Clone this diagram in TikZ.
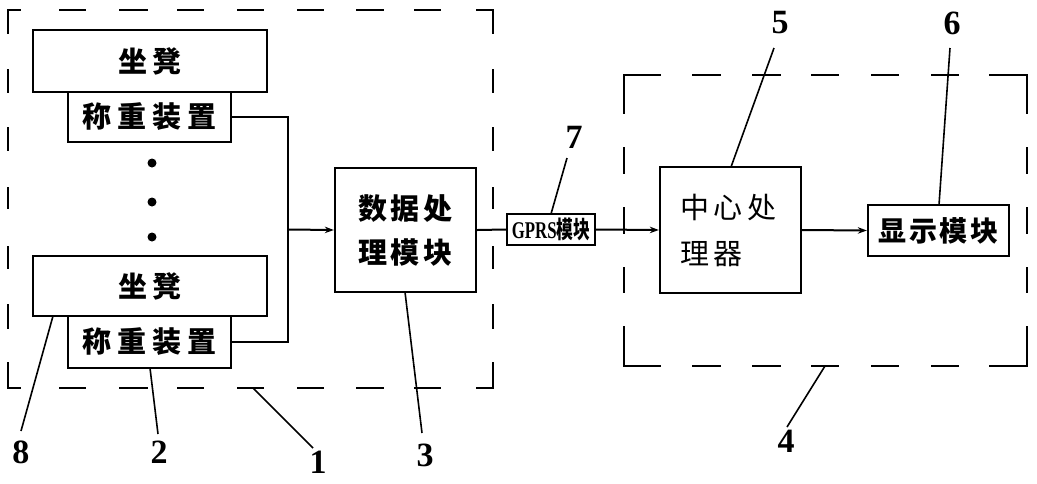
\documentclass[tikz,border=0pt]{standalone}
\usepackage{fontspec}
\usepackage{graphicx}
\setmainfont{Liberation Serif}
\newfontfamily\cjk{Noto Sans CJK SC}
\usetikzlibrary{arrows.meta}
\tikzset{
  blk/.style={draw, line width=2.4pt, inner sep=0pt, font=\cjk\bfseries},
  grp/.style={line width=2.6pt, line cap=rect},
  grpAh/.style={grp, dash pattern=on 12pt off 40pt on 25pt off 35pt on 27pt off 31pt on 25pt off 35pt on 25pt off 35pt on 25pt off 34pt on 26pt off 32pt on 25pt off 37pt on 16pt off 100pt},
  grpAv/.style={grp, dash pattern=on 23pt off 37pt on 22pt off 36pt on 22pt off 38pt on 20pt off 39pt on 21pt off 37pt on 23pt off 35pt on 25pt off 100pt},
  grpBh/.style={grp, dash pattern=on 36pt off 33pt on 27pt off 33pt on 27pt off 32pt on 26pt off 34pt on 26pt off 34pt on 26pt off 32pt on 37pt off 100pt},
  grpBv/.style={grp, dash pattern=on 38pt off 35pt on 25pt off 35pt on 25pt off 35pt on 24pt off 35pt on 39pt off 100pt},
  wire/.style={line width=2pt},
  arr/.style={wire, -{Stealth[length=9pt,width=6.5pt]}},
  leader/.style={line width=1.6pt},
  num/.style={inner sep=0pt, font=\fontsize{34}{34}\selectfont\bfseries},
}
\begin{document}
\begin{tikzpicture}[x=1pt,y=-1pt]
\useasboundingbox (0,0) rectangle (1037,483);
% group boxes
\draw[grpAh] (8,10) -- (493,10);
\draw[grpAh] (8,388) -- (493,388);
\draw[grpAv] (8,10) -- (8,388);
\draw[grpAv] (493,10) -- (493,388);
\draw[grpBh] (624,75) -- (1027,75);
\draw[grpBh] (624,366) -- (1027,366);
\draw[grpBv] (624,75) -- (624,366);
\draw[grpBv] (1027,75) -- (1027,366);
% blocks
\node[blk, minimum width=234pt, minimum height=62pt, font=\cjk\bfseries\fontsize{29}{29}\selectfont] (seat1) at (150,61) {坐\hspace{6pt}凳};
\node[blk, minimum width=163pt, minimum height=50pt, font=\cjk\bfseries\fontsize{29}{29}\selectfont] (weigh1) at (149.5,117) {称\hspace{6pt}重\hspace{6pt}装\hspace{6pt}置};
\node[blk, minimum width=234pt, minimum height=60pt, font=\cjk\bfseries\fontsize{29}{29}\selectfont] (seat2) at (150,286) {坐\hspace{6pt}凳};
\node[blk, minimum width=163pt, minimum height=52pt, font=\cjk\bfseries\fontsize{29}{29}\selectfont] (weigh2) at (149.5,342) {称\hspace{6pt}重\hspace{6pt}装\hspace{6pt}置};
\node[blk, minimum width=141pt, minimum height=124pt, align=center, font=\cjk\bfseries\fontsize{29}{44}\selectfont] (data) at (405.5,230) {数\hspace{4pt}据\hspace{4pt}处\\理\hspace{4pt}模\hspace{4pt}块};
\node[blk, minimum width=88pt, minimum height=31pt, font=\cjk\bfseries] (gprs) at (551,229.5) {\scalebox{0.7}[1]{\fontsize{24}{24}\selectfont\bfseries{\rmfamily GPRS}模块}};
\node[blk, minimum width=141pt, minimum height=126pt, align=left, font=\cjk\fontsize{29}{46}\selectfont] (cpu) at (730.5,230) {中\hspace{5pt}心\hspace{5pt}处\\理\hspace{5pt}器\hspace{38pt}\mbox{}};
\node[blk, minimum width=141pt, minimum height=51pt, font=\cjk\bfseries\fontsize{28}{28}\selectfont] (disp) at (938.5,230.5) {显\hspace{3pt}示\hspace{3pt}模\hspace{3pt}块};
% dots
\foreach \yy/\nm in {163/d1,202/d2,237/d3}
  \node[circle, fill, inner sep=0pt, minimum size=9pt] (\nm) at (152,\yy) {};
% connectors
\coordinate (bus) at (288,229.5);
\draw[wire] (weigh1.east) -| (bus) |- (weigh2.east);
\draw[arr] (bus) -- (data.west);
\draw[wire] (data.east) -- (gprs.west);
\draw[arr] (gprs.east) -- (cpu.west);
\draw[arr] (cpu.east) -- (disp.west);
% labels
\node[num] (n8) at (21,452) {8};
\node[num] (n2) at (159,452) {2};
\node[num] (n1) at (318,462) {1};
\node[num] (n3) at (425,455) {3};
\node[num] (n4) at (786,441) {4};
\node[num] (n5) at (780,23) {5};
\node[num] (n6) at (952,23) {6};
\node[num] (n7) at (574,137) {7};
\coordinate (p8) at (53,316);
\coordinate (p2) at (150,368);
\coordinate (p1) at (253,388);
\coordinate (p3) at (405,292);
\coordinate (p4) at (825,366);
\coordinate (p5) at (731,167);
\coordinate (p6) at (939,205);
\coordinate (p7) at (551,214);
\coordinate (q8) at (21,431);
\coordinate (q2) at (158,434);
\coordinate (q1) at (313,448);
\coordinate (q3) at (422,433);
\coordinate (q4) at (787,427);
\coordinate (q5) at (774,48);
\coordinate (q6) at (950,48);
\coordinate (q7) at (567,158);
\draw[leader] (p8) -- (q8);
\draw[leader] (p2) -- (q2);
\draw[leader] (p1) -- (q1);
\draw[leader] (p3) -- (q3);
\draw[leader] (p4) -- (q4);
\draw[leader] (p5) -- (q5);
\draw[leader] (p6) -- (q6);
\draw[leader] (p7) -- (q7);
\end{tikzpicture}
\end{document}
